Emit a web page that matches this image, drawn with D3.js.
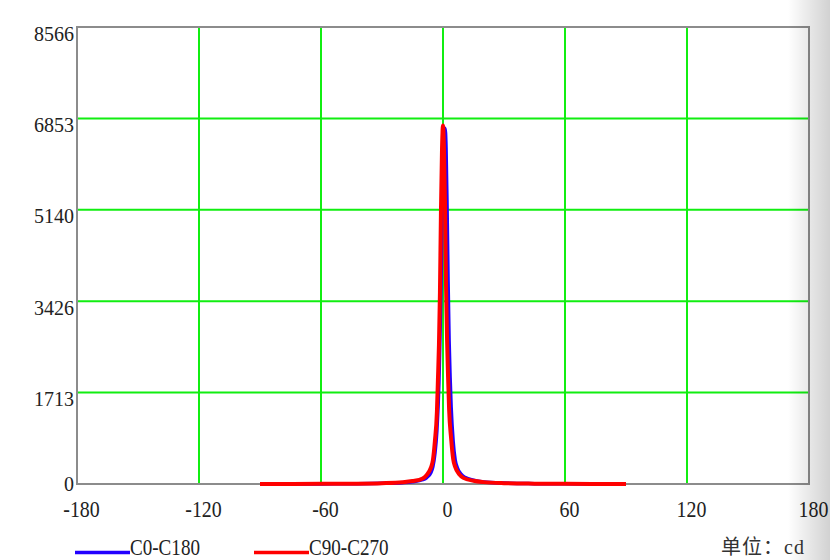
<!DOCTYPE html>
<html><head><meta charset="utf-8">
<script src="https://cdn.jsdelivr.net/npm/d3@7/dist/d3.min.js"></script>
<style>html,body{margin:0;padding:0;background:#fff;}svg{display:block;}</style>
</head><body>
<svg id="chart" width="830" height="560"></svg>
<script>
// ---- data ----
const xTicks = [-180, -120, -60, 0, 60, 120, 180];
const yTicks = [0, 1713, 3426, 5140, 6853, 8566];
const seriesNames = ["C0-C180", "C90-C270"];
const seriesColors = ["#2200ff", "#ff0000"];
// C0-C180 (blue)
const blueAngles = [-90,-60,-45,-30,-20,-15,-10,-8,-6,-5,-4,-3,-2,-1.5,-1,-0.5,0,0.5,1,1.5,2,2.5,3,3.5,4,5,6,7,9,11,15,20,30,45,60,90];
const blueValues = [0,2,5,12,25,42,80,120,210,320,560,1000,1900,2700,3700,4900,5900,6450,6670,6300,5200,3800,2700,2000,1450,800,450,310,180,120,70,38,17,7,3,0];
// C90-C270 (red)
const redAngles = [-90,-60,-45,-30,-20,-15,-10,-8,-6,-5,-4,-3,-2.5,-2,-1.5,-1,-0.5,0,0.5,1,1.5,2,2.5,3,4,5,6,8,10,15,20,30,45,60,90];
const redValues = [0,3,6,15,32,55,105,170,300,440,800,1350,1950,2600,3600,5140,6250,6720,6250,5200,3700,2700,2000,1400,850,470,320,180,115,60,35,16,7,3,0];

// ---- layout ----
const svg = d3.select("#chart");
const L = 77, R = 809, T = 27, B = 484;
const x = d3.scaleLinear().domain([-180, 180]).range([L, R]);
const y = d3.scaleLinear().domain([0, 8566]).range([B, T]);

// grid
const grid = svg.append("g");
grid.selectAll(".vg").data(xTicks.slice(1, -1)).enter().append("line")
  .attr("x1", d => x(d)).attr("x2", d => x(d)).attr("y1", T).attr("y2", B)
  .attr("stroke", "#11ee11").attr("stroke-width", 2);
grid.selectAll(".hg").data(yTicks.slice(1, -1)).enter().append("line")
  .attr("x1", L).attr("x2", R).attr("y1", d => y(d)).attr("y2", d => y(d))
  .attr("stroke", "#11ee11").attr("stroke-width", 2);

// frame
svg.append("rect").attr("x", L).attr("y", T).attr("width", R - L).attr("height", B - T)
  .attr("fill", "none").attr("stroke", "#8c8c8c").attr("stroke-width", 2);

// y tick labels
svg.append("g").selectAll("text").data(yTicks).enter().append("text")
  .attr("x", L - 3).attr("y", d => y(d) + (d === 0 ? 7 : 13.5))
  .attr("text-anchor", "end")
  .attr("font-family", "'Liberation Serif', 'DejaVu Serif', serif")
  .attr("font-size", 20).attr("fill", "#222")
  .text(d => d);

// x tick labels (tall, condensed look)
svg.append("g").selectAll("text").data(xTicks).enter().append("text")
  .attr("transform", d => `translate(${x(d) + 4.5},517) scale(0.83,1)`)
  .attr("text-anchor", "middle")
  .attr("font-family", "'Liberation Serif', 'DejaVu Serif', serif")
  .attr("font-size", 24).attr("fill", "#222")
  .text(d => d);

// lines
const line = d3.line().x(d => x(d[0])).y(d => y(d[1])).curve(d3.curveMonotoneX);
const blueData = blueAngles.map((a, i) => [a, blueValues[i]]);
const redData = redAngles.map((a, i) => [a, redValues[i]]);
svg.append("path").datum(blueData).attr("d", line)
  .attr("fill", "none").attr("stroke", seriesColors[0]).attr("stroke-width", 3.5)
  .attr("stroke-linejoin", "round");
svg.append("path").datum(redData).attr("d", line)
  .attr("fill", "none").attr("stroke", seriesColors[1]).attr("stroke-width", 4)
  .attr("stroke-linejoin", "round");

// legend
const legendX = [75, 254];
const legend = svg.append("g");
seriesNames.forEach((name, i) => {
  legend.append("line").attr("x1", legendX[i]).attr("x2", legendX[i] + 55)
    .attr("y1", 552.5).attr("y2", 552.5)
    .attr("stroke", seriesColors[i]).attr("stroke-width", 3.5);
  legend.append("text")
    .attr("transform", `translate(${legendX[i] + 55},555) scale(0.83,1)`)
    .attr("font-family", "'Liberation Serif', 'DejaVu Serif', serif")
    .attr("font-size", 23).attr("fill", "#222")
    .text(name);
});

// unit label
svg.append("text").attr("x", 721).attr("y", 554)
  .attr("font-family", "'Liberation Serif', 'Noto Sans CJK SC', serif")
  .attr("font-size", 20).attr("fill", "#333").attr("letter-spacing", 1)
  .text("单位：cd");

// right-edge page shadow
const defs = svg.append("defs");
const grad = defs.append("linearGradient").attr("id", "shade").attr("x1", "0").attr("x2", "1").attr("y1", "0").attr("y2", "0");
grad.append("stop").attr("offset", "0").attr("stop-color", "#000").attr("stop-opacity", 0);
grad.append("stop").attr("offset", "1").attr("stop-color", "#000").attr("stop-opacity", 0.18);
svg.append("rect").attr("x", 788).attr("y", 0).attr("width", 42).attr("height", 560)
  .attr("fill", "url(#shade)");
</script>
</body></html>
